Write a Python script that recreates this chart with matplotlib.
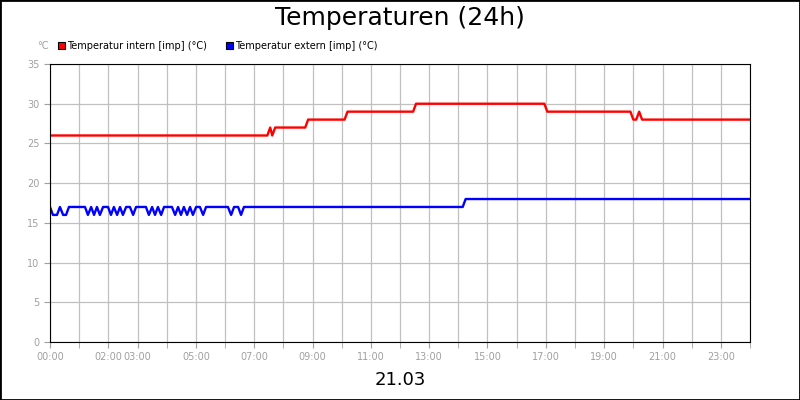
import matplotlib
matplotlib.use("Agg")
import matplotlib.pyplot as plt
from matplotlib.patches import Rectangle

# ── Data (hours since 00:00, °C) ─────────────────────────────────────────────
intern_t = [0, 7.45, 7.55, 7.62, 7.72, 8.75, 8.85, 10.1, 10.2, 12.45, 12.55,
            16.95, 17.05, 19.9, 20.0, 20.1, 20.2, 20.3, 24]
intern_v = [26, 26, 27, 26, 27, 27, 28, 28, 29, 29, 30,
            30, 29, 29, 28, 28, 29, 28, 28]

extern_t = [0, 0.10, 0.24, 0.34, 0.45, 0.55, 0.65, 1.20, 1.30, 1.41, 1.51, 1.61,
            1.71, 1.82, 1.99, 2.09, 2.19, 2.30, 2.40, 2.50, 2.61, 2.74, 2.85,
            2.95, 3.29, 3.39, 3.50, 3.60, 3.70, 3.81, 3.91, 4.18, 4.29, 4.39,
            4.49, 4.59, 4.70, 4.80, 4.90, 5.01, 5.14, 5.25, 5.35, 6.10, 6.21,
            6.31, 6.45, 6.55, 6.65, 14.15, 14.25, 24]
extern_v = [17, 16, 16, 17, 16, 16, 17, 17, 16, 17, 16, 17,
            16, 17, 17, 16, 17, 16, 17, 16, 17, 17, 16,
            17, 17, 16, 17, 16, 17, 16, 17, 17, 16, 17,
            16, 17, 16, 17, 16, 17, 17, 16, 17, 17, 16,
            17, 17, 16, 17, 17, 18, 18]

tick_hours = [0, 2, 3, 5, 7, 9, 11, 13, 15, 17, 19, 21, 23]
tick_labels = ["00:00", "02:00", "03:00", "05:00", "07:00", "09:00", "11:00",
               "13:00", "15:00", "17:00", "19:00", "21:00", "23:00"]

GRAY = "#a0a0a0"

fig = plt.figure(figsize=(8, 4), dpi=100)
fig.patches.append(Rectangle((0, 0), 1, 1, transform=fig.transFigure,
                             fill=False, edgecolor="black", linewidth=2))
ax = fig.add_axes([0.0625, 0.145, 0.875, 0.695])

ax.plot(intern_t, intern_v, color="#ff0000", linewidth=1.7)
ax.plot(extern_t, extern_v, color="#0000ff", linewidth=1.7)

ax.set_xlim(0, 24)
ax.set_ylim(0, 35)
ax.set_yticks(range(0, 36, 5))
ax.set_xticks(tick_hours)
ax.set_xticklabels(tick_labels)
ax.set_xticks(range(0, 25), minor=True)
ax.set_axisbelow(True)
ax.grid(True, which="both", color="#c0c0c0", linewidth=0.9)
ax.tick_params(colors=GRAY, labelsize=7, length=4)
ax.tick_params(which="minor", colors=GRAY, length=4)
for s in ax.spines.values():
    s.set_color("black")

fig.text(0.5, 0.955, "Temperaturen (24h)", ha="center", va="center", fontsize=18)
fig.text(0.5, 0.05, "21.03", ha="center", va="center", fontsize=13)
fig.text(0.047, 0.885, "°C", ha="left", va="center", fontsize=7, color=GRAY)

fig.patches.append(Rectangle((0.0725, 0.877), 0.0085, 0.017, transform=fig.transFigure,
                             facecolor="#ff0000", edgecolor="black", linewidth=0.8))
fig.text(0.084, 0.886, "Temperatur intern [imp] (°C)", fontsize=7, va="center")
fig.patches.append(Rectangle((0.2825, 0.877), 0.0085, 0.017, transform=fig.transFigure,
                             facecolor="#0000ff", edgecolor="black", linewidth=0.8))
fig.text(0.294, 0.886, "Temperatur extern [imp] (°C)", fontsize=7, va="center")

fig.savefig("out.png", dpi=100)
